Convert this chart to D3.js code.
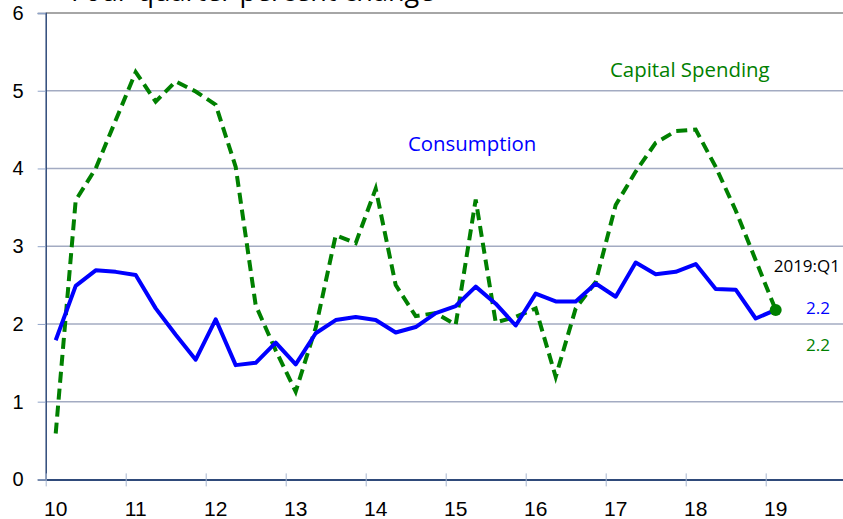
<!DOCTYPE html>
<html>
<head>
<meta charset="utf-8">
<script src="https://cdn.jsdelivr.net/npm/d3@7"></script>
<style>
  body { margin: 0; background: #fff; }
  svg { display: block; }
</style>
</head>
<body>
<svg id="plot"></svg>
<script>
// four-quarter percent change, 2010:Q1 .. 2019:Q1
const years = [2010, 2011, 2012, 2013, 2014, 2015, 2016, 2017, 2018, 2019];
const yTicks = [0, 1, 2, 3, 4, 5, 6];

const consumption = [
  1.79, 2.49, 2.69, 2.67, 2.63, 2.20, 1.86, 1.54, 2.06, 1.47, 1.50, 1.76,
  1.48, 1.88, 2.05, 2.09, 2.05, 1.89, 1.96, 2.14, 2.23, 2.48, 2.26, 1.98,
  2.39, 2.29, 2.29, 2.52, 2.35, 2.79, 2.64, 2.67, 2.77, 2.45, 2.44, 2.07,
  2.18
];
const capital = [
  0.59, 3.59, 4.00, 4.62, 5.24, 4.86, 5.12, 4.99, 4.82, 4.02, 2.24, 1.66,
  1.13, 1.95, 3.14, 3.04, 3.74, 2.50, 2.10, 2.14, 1.99, 3.60, 2.02, 2.09,
  2.20, 1.32, 2.20, 2.54, 3.53, 3.96, 4.33, 4.48, 4.50, 4.02, 3.46, 2.82,
  2.18
];

const width = 843, height = 519;

const svg = d3.select("#plot")
  .attr("width", width)
  .attr("height", height)
  .style("font-family", "'Liberation Sans', Arial, sans-serif");

// quarter index -> fractional year (centre of the quarter)
const t = i => years[0] + (i + 0.5) / 4;

const x = d3.scaleLinear()
  .domain([2010, 2020])
  .range([45.7, 845.7]);

const y = d3.scaleLinear()
  .domain([0, 6])
  .range([479.4, 13]);

// Title (cut off at the top, as in the source)
svg.append("text")
  .attr("x", 71)
  .attr("y", 1)
  .style("font-family", "'Open Sans', sans-serif")
  .style("font-size", "27px")
  .attr("fill", "#000")
  .text("Four-quarter percent change");

// grid lines
svg.append("g")
  .selectAll("line")
  .data(yTicks.filter(d => d > 0 && d < 6))
  .enter().append("line")
    .attr("x1", x(2010))
    .attr("x2", width)
    .attr("y1", d => y(d))
    .attr("y2", d => y(d))
    .attr("stroke", "#a3abc2")
    .attr("stroke-width", 1.5);

// top border
svg.append("line")
  .attr("x1", x(2010))
  .attr("x2", width)
  .attr("y1", y(6))
  .attr("y2", y(6))
  .attr("stroke", "#888")
  .attr("stroke-width", 1.5);

// Y Axis
const yAxis = svg.append("g")
  .attr("transform", `translate(${x(2010)},0)`)
  .call(d3.axisLeft(y).tickValues(yTicks).tickSize(8).tickPadding(14).tickFormat(d3.format("d")));
yAxis.select(".domain").attr("stroke", "#2f4a7a").attr("stroke-width", 1.5);
yAxis.selectAll(".tick line").attr("stroke", "#8fa3c8");
yAxis.selectAll(".tick text")
  .style("font-size", "20px")
  .attr("fill", "#000");

// X Axis
const xAxis = svg.append("g")
  .attr("transform", `translate(0,${y(0)})`)
  .call(d3.axisBottom(x).tickValues(years).tickSize(0).tickFormat(""));
xAxis.select(".domain").attr("stroke", "#2f4a7a").attr("stroke-width", 2);
xAxis.selectAll(".tick").append("line")
  .attr("y1", -6)
  .attr("y2", 7)
  .attr("stroke", "#a9b7d0");

// year labels sit at the first quarter of each year
svg.append("g")
  .selectAll("text")
  .data(years)
  .enter().append("text")
    .attr("x", d => x(d + 0.125))
    .attr("y", 516)
    .attr("text-anchor", "middle")
    .style("font-size", "21px")
    .text(d => String(d % 100).padStart(2, "0"));

const line = d3.line()
  .x((d, i) => x(t(i)))
  .y(d => y(d));

// Capital spending
svg.append("path")
  .datum(capital)
  .attr("fill", "none")
  .attr("stroke", "#008000")
  .attr("stroke-width", 4)
  .attr("stroke-dasharray", "11,6")
  .attr("d", line);

// Consumption
svg.append("path")
  .datum(consumption)
  .attr("fill", "none")
  .attr("stroke", "#0000ff")
  .attr("stroke-width", 4)
  .attr("stroke-linejoin", "round")
  .attr("d", line);

const last = capital.length - 1;
svg.append("circle")
  .attr("cx", x(t(last)))
  .attr("cy", y(capital[last]))
  .attr("r", 6)
  .attr("fill", "#008000");

// labels
const label = (txt, px, py, col, size, anchor) =>
  svg.append("text")
    .attr("x", px)
    .attr("y", py)
    .attr("text-anchor", anchor || "start")
    .attr("fill", col)
    .style("font-family", "'Open Sans', sans-serif")
    .style("font-size", size + "px")
    .text(txt);

label("Capital Spending", 610, 77, "#008000", 20.4);
label("Consumption", 408, 151, "#0000ff", 20.4);
label("2019:Q1", 840, 272, "#000", 17, "end");
label(d3.format(".1f")(consumption[last]), 830, 314, "#0000ff", 17, "end");
label(d3.format(".1f")(capital[last]), 830, 351, "#008000", 17, "end");
</script>
</body>
</html>
